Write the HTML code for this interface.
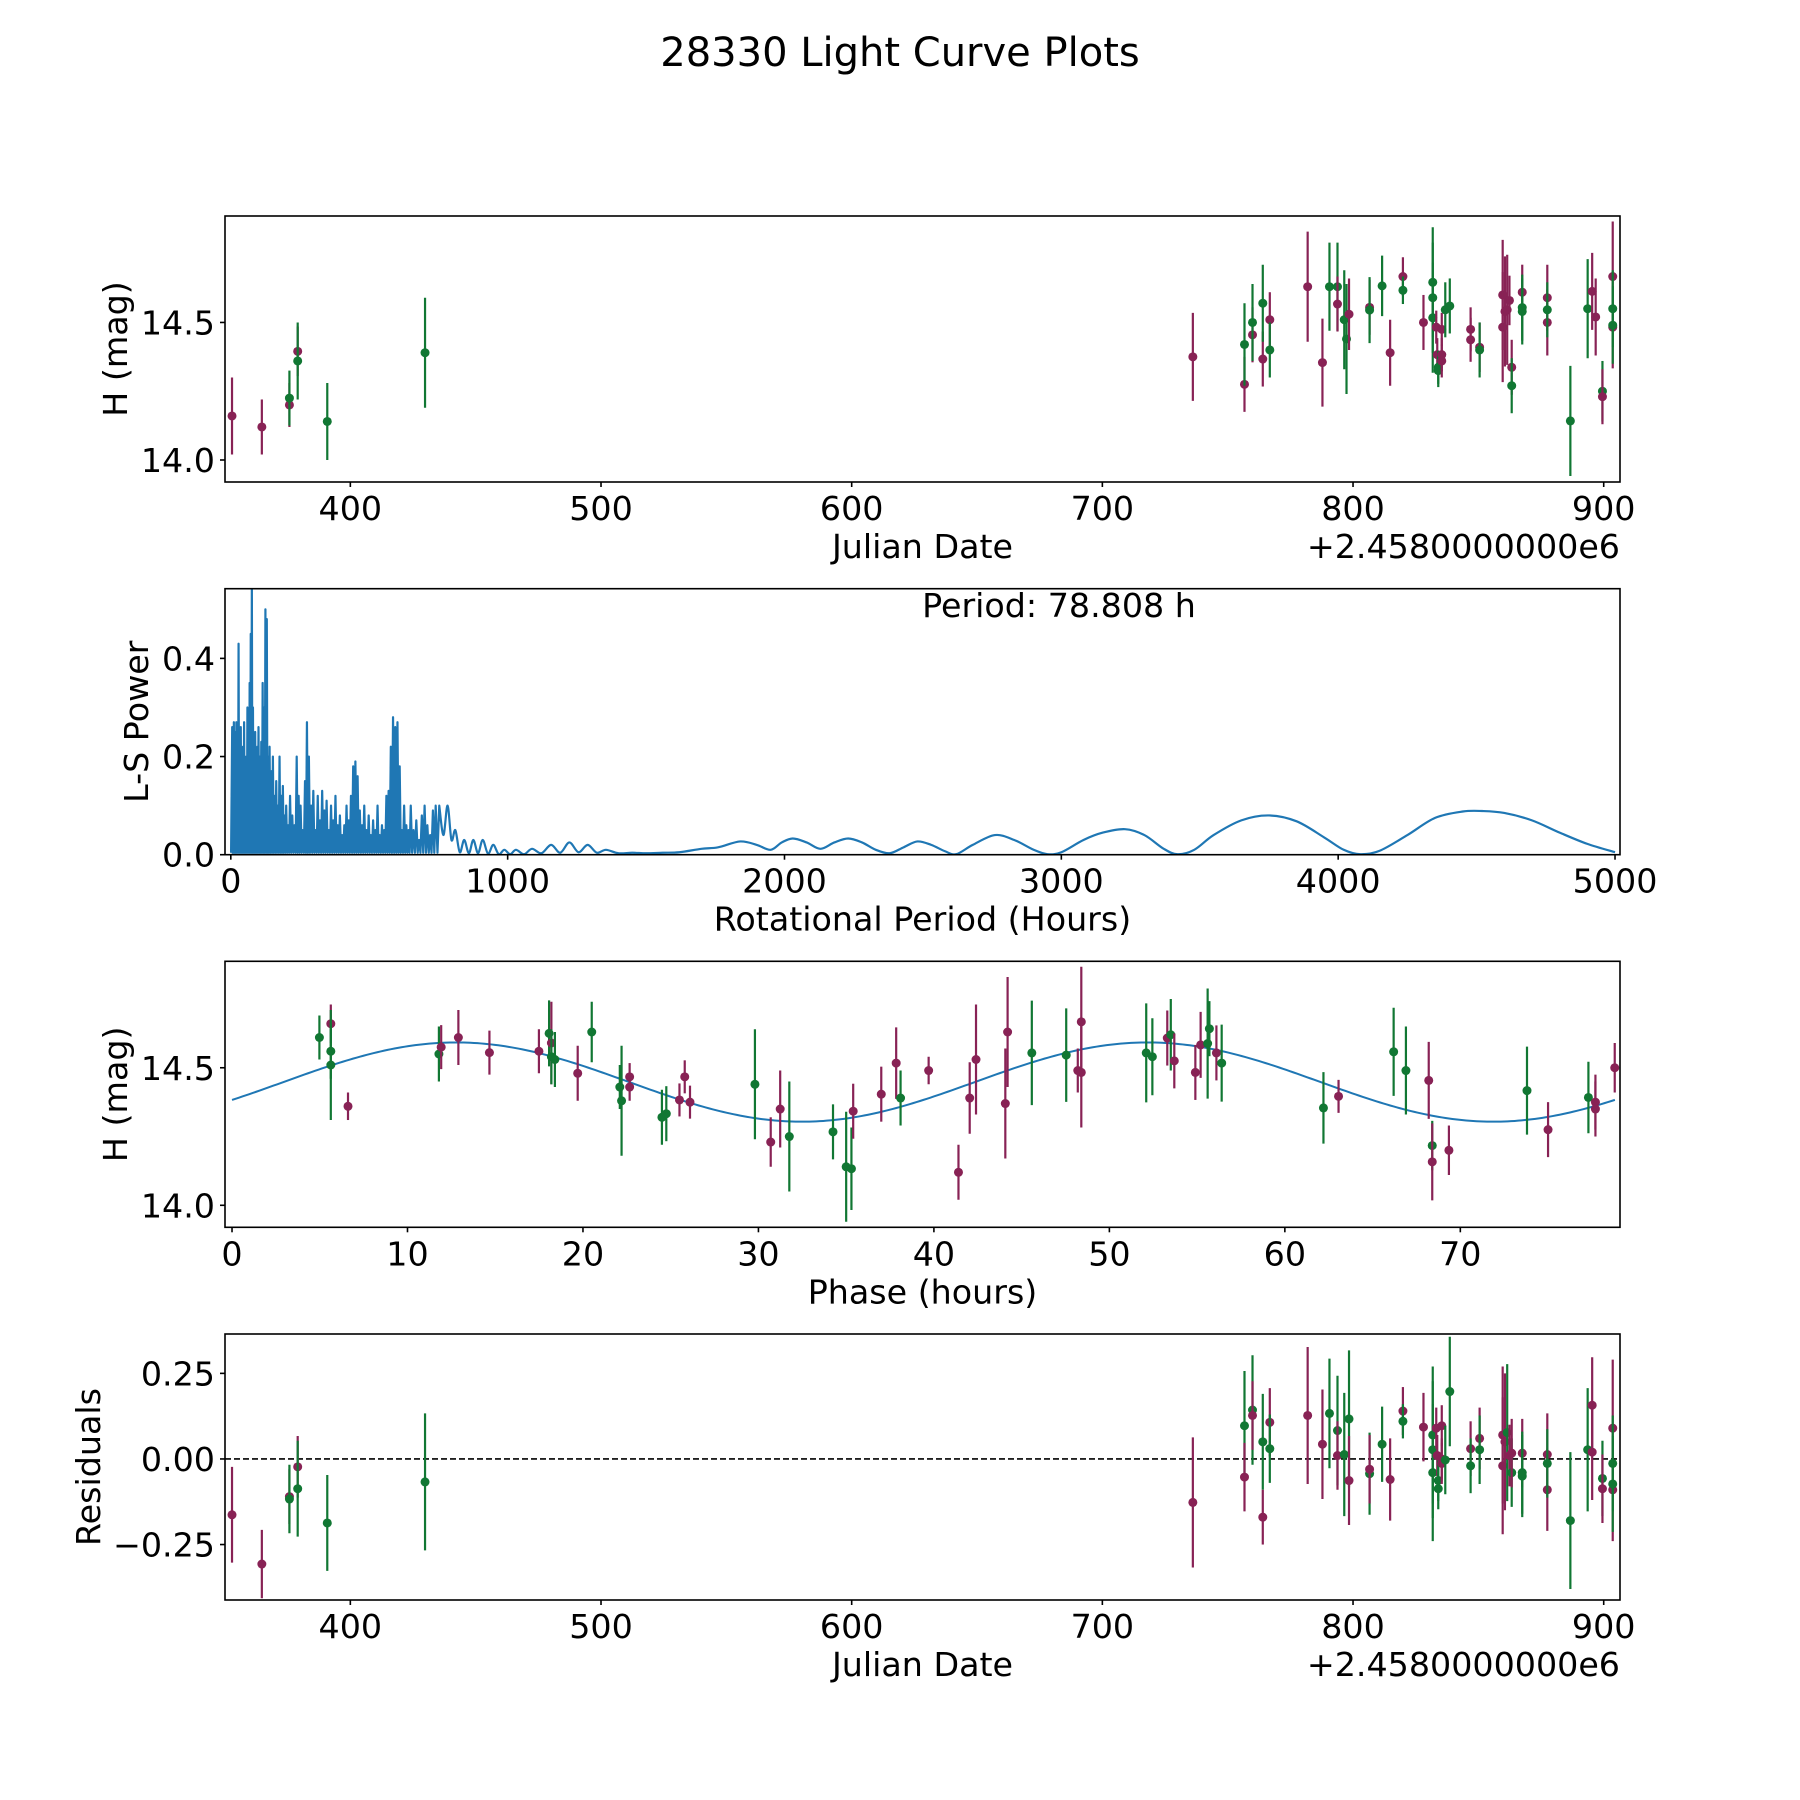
<!DOCTYPE html>
<html><head><meta charset="utf-8"><style>
html,body{margin:0;padding:0;background:#fff;}
svg{display:block;font-family:"DejaVu Sans","Liberation Sans",sans-serif;}
</style></head><body>
<svg id="fig" width="1800" height="1800" viewBox="0 0 1800 1800" xmlns="http://www.w3.org/2000/svg">
<rect width="1800" height="1800" fill="#fff"/>
<text x="900" y="66" text-anchor="middle" font-size="40">28330 Light Curve Plots</text>
</svg>
<script>
// ---------- Panel 1: raw light curve ----------
const jd1 = [352.8,364.7,375.7,375.7,379,379,390.8,429.8,736.1,756.7,756.7,759.9,759.9,764,764,766.8,766.8,781.9,787.8,790.6,793.8,793.8,796.5,797.4,798.4,806.6,806.6,811.6,814.8,819.9,819.9,828.1,831.8,831.8,831.8,833.2,833.6,834,834,835.4,835.4,835.4,836.8,838.6,846.9,846.9,850.5,850.5,859.7,859.7,860.6,861.5,862.4,863.3,863.3,867.5,867.5,867.5,877.5,877.5,877.5,886.7,893.6,895.4,896.8,899.5,899.5,903.6,903.6,903.6,903.6];
const mag1 = [14.16,14.12,14.20,14.225,14.395,14.36,14.14,14.39,14.375,14.275,14.42,14.455,14.5,14.367,14.57,14.51,14.4,14.63,14.354,14.63,14.63,14.567,14.51,14.44,14.53,14.555,14.545,14.633,14.39,14.667,14.617,14.5,14.646,14.59,14.517,14.483,14.383,14.337,14.325,14.475,14.383,14.36,14.546,14.56,14.475,14.437,14.41,14.4,14.6,14.483,14.54,14.546,14.58,14.337,14.27,14.61,14.554,14.54,14.59,14.5,14.546,14.142,14.55,14.613,14.52,14.25,14.23,14.667,14.483,14.55,14.49];
const err1 = [.14,.1,.08,.1,.09,.14,.14,.2,.16,.1,.15,.1,.14,.1,.14,.1,.1,.2,.16,.16,.16,.1,.18,.2,.13,.1,.12,.11,.12,.07,.05,.1,.2,.2,.2,.06,.06,.06,.06,.06,.06,.06,.1,.1,.08,.08,.09,.1,.2,.2,.2,.2,.09,.1,.1,.1,.12,.12,.12,.12,.1,.2,.18,.14,.14,.11,.1,.2,.15,.14,.14];
const band1 = ['m','m','m','g','m','g','g','g','m','m','g','m','g','m','g','m','g','m','m','g','g','m','g','g','m','m','g','g','m','m','g','m','g','g','g','m','m','g','g','m','m','m','g','g','m','m','m','g','m','m','m','m','m','m','g','m','g','g','m','m','g','g','g','m','m','g','m','m','m','g','g'];
const jdTicks = [400,500,600,700,800,900];
const magTicks = [14.0,14.5];
const magTickLabels = ['14.0','14.5'];

// ---------- Panel 2: periodogram ----------
const peakPeriods = [5,8,11,14,17,20,24,28,32,36,40,44,48,52,56,60,64,68,72,76,80,84,88,92,96,100,105,110,115,120,125,130,135,140,146,152,158,164,170,176,182,188,194,200,207,214,222,230,238,245,252,260,268,275,282,290,298,306,314,322,330,338,346,354,362,370,378,386,394,402,410,418,426,434,442,450,458,466,474,482,490,498,506,514,522,530,538,546,554,562,570,578,586,594,602,610,618,626,634,642,650,660,670,680,690,700,710,720,730,740];
const peakPower = [0.26,0.2,0.27,0.15,0.25,0.27,0.18,0.43,0.2,0.26,0.15,0.22,0.27,0.12,0.2,0.3,0.22,0.35,0.45,0.56,0.3,0.2,0.25,0.15,0.22,0.26,0.2,0.23,0.35,0.3,0.5,0.48,0.2,0.22,0.17,0.2,0.12,0.15,0.1,0.2,0.12,0.14,0.08,0.1,0.06,0.12,0.08,0.06,0.2,0.12,0.1,0.05,0.15,0.27,0.2,0.1,0.13,0.05,0.12,0.07,0.13,0.09,0.11,0.05,0.1,0.07,0.12,0.06,0.08,0.04,0.06,0.1,0.07,0.12,0.18,0.19,0.16,0.09,0.06,0.1,0.05,0.08,0.04,0.07,0.05,0.1,0.04,0.06,0.05,0.12,0.13,0.22,0.28,0.26,0.27,0.18,0.05,0.1,0.06,0.05,0.1,0.05,0.07,0.03,0.08,0.1,0.06,0.04,0.09,0.1];
const troughLevel = [0.004];
const longPeriods = [753,768,783,797,811,827,843,860,876,893, 910,929,948,968,988,1009,1030,1059,1088,1122, 1157,1190,1223,1256,1289,1322,1355,1400,1450,1500, 1560,1620,1700,1760,1840,1900,1950,1990,2030,2080, 2130,2180,2230,2280,2330,2380,2430,2480,2530,2580, 2620,2680,2760,2830,2900,2950,3000,3080,3150,3230, 3300,3370,3420,3480,3550,3650,3750,3850,3950,4020, 4080,4150,4250,4350,4450,4520,4600,4700,4800,4900,5000];
const longPower = [0.1,0.04,0.1,0.03,0.05,0.005,0.03,0.003,0.03,0.003, 0.03,0.002,0.02,0.001,0.01,0.001,0.01,0.001,0.012,0.003, 0.02,0.004,0.025,0.005,0.02,0.004,0.01,0.003,0.004,0.003, 0.004,0.005,0.012,0.015,0.027,0.02,0.01,0.025,0.033,0.025, 0.012,0.025,0.033,0.025,0.01,0.003,0.015,0.027,0.02,0.007, 0.001,0.02,0.04,0.03,0.01,0.001,0.005,0.03,0.045,0.052, 0.04,0.012,0.001,0.01,0.04,0.07,0.08,0.068,0.035,0.01, 0.001,0.008,0.04,0.075,0.088,0.089,0.085,0.07,0.045,0.022,0.005];
const periodTicks = [0,1000,2000,3000,4000,5000];
const powerTicks = [0.0,0.2,0.4];
const powerTickLabels = ['0.0','0.2','0.4'];
const bestPeriod = ['78.808'];

// ---------- Panel 3: phased light curve ----------
const phase3 = [4.98,5.63,5.63,5.63,6.61,11.79,11.92,12.9,14.67,17.49,18.07,18.2,18.2,18.4,19.7,20.5,22.1,22.2,22.66,22.66,24.5,24.75,25.5,25.8,26.1,29.8,30.7,31.24,31.76,34.25,35.0,35.3,35.4,37.0,37.85,38.1,39.7,41.4,42.04,42.4,44.07,44.2,45.58,47.54,48.2,48.4,48.4,52.1,52.45,53.3,53.5,53.7,54.9,55.2,55.6,55.7,56.1,56.4,62.2,63.06,66.2,66.9,68.2,68.4,68.4,69.35,73.8,75.0,77.3,77.7,77.7,78.8];
const mag3 = [14.61,14.66,14.56,14.51,14.36,14.55,14.575,14.61,14.555,14.56,14.625,14.59,14.54,14.53,14.48,14.63,14.43,14.38,14.467,14.43,14.32,14.333,14.383,14.467,14.375,14.44,14.23,14.35,14.25,14.267,14.14,14.133,14.342,14.404,14.517,14.39,14.49,14.12,14.39,14.53,14.37,14.63,14.554,14.546,14.49,14.667,14.483,14.554,14.54,14.608,14.62,14.525,14.483,14.583,14.588,14.642,14.554,14.517,14.354,14.396,14.558,14.49,14.454,14.217,14.158,14.2,14.417,14.275,14.392,14.375,14.35,14.5];
const err3 = [.08,.07,.1,.2,.05,.1,.08,.1,.08,.08,.12,.15,.1,.1,.1,.11,.08,.2,.05,.05,.1,.1,.06,.06,.06,.2,.09,.14,.2,.1,.2,.15,.1,.1,.13,.1,.05,.1,.13,.2,.2,.2,.19,.17,.08,.2,.2,.18,.14,.1,.13,.1,.1,.12,.2,.1,.1,.14,.13,.06,.16,.16,.14,.09,.14,.09,.16,.1,.13,.1,.1,.09];
const band3 = ['g','m','g','g','m','g','m','m','m','m','g','m','g','g','m','g','g','g','m','m','g','g','m','m','m','g','m','m','g','g','g','g','m','m','m','g','m','m','m','m','m','m','g','g','m','m','m','g','g','m','g','m','m','m','g','g','m','g','g','m','g','g','m','g','m','m','g','m','g','m','m','m'];
const fitParams = [14.448, 0.144, 78.808, -0.467]; // mean, amplitude, period, phase offset
const phaseTicks = [0,10,20,30,40,50,60,70];

// ---------- Panel 4: residuals ----------
const jd4 = [352.8,364.7,375.7,375.7,379,379,390.8,429.8,736.1,756.7,756.7,759.9,759.9,764,764,766.8,766.8,781.9,787.8,790.6,793.8,793.8,796.5,798.4,798.4,806.6,806.6,811.6,814.8,819.9,819.9,828.1,831.8,831.8,831.8,833.2,833.6,834,834,835.4,835.4,835.4,836.8,838.6,846.9,846.9,850.5,850.5,859.7,859.7,860.6,861.5,862.4,863.3,863.3,867.5,867.5,867.5,877.5,877.5,877.5,886.7,893.6,895.4,895.4,899.5,899.5,903.6,903.6,903.6,903.6];
const res4 = [-.163,-.307,-.11,-.117,-.023,-.087,-.187,-.067,-.127,.097,-.053,.143,.127,.05,-.17,.107,.03,.127,.043,.133,.083,.01,.013,.117,-.063,-.043,-.03,.043,-.06,.14,.11,.093,.07,.027,-.04,.09,.01,-.087,-.063,.097,0,-.013,-.003,.197,.03,-.02,.06,.027,.07,-.02,.05,.077,.01,-.04,.017,.017,-.05,-.04,-.09,.013,-.013,-.18,.027,.157,.02,-.057,-.087,.09,-.09,-.013,-.073];
const err4 = [.14,.1,.08,.1,.09,.14,.14,.2,.19,.16,.1,.16,.1,.14,.08,.1,.1,.2,.16,.16,.16,.1,.18,.2,.13,.12,.1,.11,.12,.07,.05,.1,.2,.2,.2,.06,.06,.06,.06,.06,.06,.06,.1,.16,.08,.08,.09,.1,.2,.2,.2,.2,.09,.1,.1,.1,.12,.12,.12,.12,.1,.2,.18,.14,.14,.11,.1,.2,.15,.14,.14];
const band4 = ['m','m','m','g','m','g','g','g','m','g','m','g','m','g','m','m','g','m','m','g','g','m','g','g','m','g','m','g','m','m','g','m','g','g','g','m','m','g','g','m','m','m','g','g','m','g','m','g','m','m','m','g','m','g','m','m','g','g','m','m','g','g','g','m','m','g','m','m','m','g','g'];
const resTicks = [-0.25,0.0,0.25];
const resTickLabels = ['\u22120.25','0.00','0.25'];

const NS = 'http://www.w3.org/2000/svg';
const svg = document.getElementById('fig');
const COL = {m:'#882255', g:'#117733'};
const L = 225, R = 1620, H = 266;
const FS = 33.3;
const tops = [216, 588.7, 961.3, 1334];

function mk(tag, attrs, parent) {
  const e = document.createElementNS(NS, tag);
  for (const k in attrs) e.setAttribute(k, attrs[k]);
  (parent || svg).appendChild(e);
  return e;
}
function makeAxes(i, xmin, xmax, ymin, ymax) {
  const top = tops[i], bot = top + H;
  const sx = v => L + (v - xmin) / (xmax - xmin) * (R - L);
  const sy = v => bot - (v - ymin) / (ymax - ymin) * H;
  const g = mk('g', {});
  
  
  const cp = mk('clipPath', {id: 'clip' + i}, g);
  mk('rect', {x: L, y: top, width: R - L, height: H}, cp);
  const plot = mk('g', {'clip-path': 'url(#clip' + i + ')'}, g);
  
  
  return {top, bot, sx, sy, g, plot};
}
function frame(ax) {
  const r = mk('rect', {x: L, y: ax.top, width: R - L, height: H, fill: 'none', stroke: '#000', 'stroke-width': 1.6}, ax.g);
  
  
}
function xTicks(ax, vals, labels, name) {
  vals.forEach((v, k) => {
    const x = ax.sx(v);
    mk('line', {x1: x, x2: x, y1: ax.bot, y2: ax.bot + 5, stroke: '#000', 'stroke-width': 1.6}, ax.g);
    const t = mk('text', {x: x, y: ax.bot + 38, 'text-anchor': 'middle', 'font-size': FS}, ax.g);
    t.textContent = labels ? labels[k] : String(v);
    
    
  });
}
function yTicks(ax, vals, labels, name) {
  vals.forEach((v, k) => {
    const y = ax.sy(v);
    mk('line', {x1: L - 5, x2: L, y1: y, y2: y, stroke: '#000', 'stroke-width': 1.6}, ax.g);
    const t = mk('text', {x: L - 10, y: y + 12, 'text-anchor': 'end', 'font-size': FS}, ax.g);
    t.textContent = labels[k];
    
    
  });
}
function xLabel(ax, txt, name) {
  const t = mk('text', {x: (L + R) / 2, y: ax.bot + 76, 'text-anchor': 'middle', 'font-size': FS}, ax.g);
  t.textContent = txt;
  
  
}
function yLabel(ax, txt, x, name) {
  const cy = ax.top + H / 2;
  const t = mk('text', {x: x, y: cy, 'text-anchor': 'middle', 'font-size': FS, transform: 'rotate(-90 ' + x + ' ' + cy + ')'}, ax.g);
  t.textContent = txt;
  
  
}
function offsetText(ax) {
  const t = mk('text', {x: R, y: ax.bot + 76, 'text-anchor': 'end', 'font-size': FS}, ax.g);
  t.textContent = '+2.4580000000e6';
  
  
}
function errPoints(ax, xs, ys, es, bands) {
  const n = Math.min(xs.length, ys.length);
  for (let k = 0; k < n; k++) {
    const c = COL[bands[k] || 'm'];
    const x = ax.sx(xs[k]), e = es[k] || 0.1;
    const ln = mk('line', {x1: x, x2: x, y1: ax.sy(ys[k] - e), y2: ax.sy(ys[k] + e), stroke: c, 'stroke-width': 2.2}, ax.plot);
    
    
    const p = mk('circle', {cx: x, cy: ax.sy(ys[k]), r: 4.5, fill: c}, ax.plot);
    
    
  }
}

// Panel 1
const a1 = makeAxes(0, 350, 906.5, 13.92, 14.887);
errPoints(a1, jd1, mag1, err1, band1);
frame(a1);
xTicks(a1, jdTicks, null, 'julian-date');
yTicks(a1, magTicks, magTickLabels, 'magnitude');
xLabel(a1, 'Julian Date', 'x-axis-title-julian-date');
offsetText(a1);
yLabel(a1, 'H (mag)', 127, 'y-axis-title-magnitude');

// Panel 2
const a2 = makeAxes(1, -21, 5018, 0, 0.542);
{
  // dense short-period part: peaks joined through low troughs
  let d = 'M' + a2.sx(1).toFixed(2) + ',' + a2.sy(troughLevel[0]).toFixed(2);
  const n = Math.min(peakPeriods.length, peakPower.length);
  for (let k = 0; k < n; k++) {
    d += 'L' + a2.sx(peakPeriods[k]).toFixed(2) + ',' + a2.sy(peakPower[k]).toFixed(2);
    const nxt = k + 1 < n ? peakPeriods[k + 1] : longPeriods[0];
    d += 'L' + a2.sx((peakPeriods[k] + nxt) / 2).toFixed(2) + ',' + a2.sy(troughLevel[0]).toFixed(2);
  }
  // long-period part: smooth curve through samples
  const m = Math.min(longPeriods.length, longPower.length);
  const P = [];
  for (let k = 0; k < m; k++) P.push([a2.sx(longPeriods[k]), a2.sy(longPower[k])]);
  d += 'L' + P[0][0].toFixed(2) + ',' + P[0][1].toFixed(2);
  for (let k = 0; k < m - 1; k++) {
    const p0 = P[Math.max(0, k - 1)], p1 = P[k], p2 = P[k + 1], p3 = P[Math.min(m - 1, k + 2)];
    const c1 = [p1[0] + (p2[0] - p0[0]) / 6, p1[1] + (p2[1] - p0[1]) / 6];
    const c2 = [p2[0] - (p3[0] - p1[0]) / 6, p2[1] - (p3[1] - p1[1]) / 6];
    d += 'C' + c1[0].toFixed(2) + ',' + c1[1].toFixed(2) + ' ' + c2[0].toFixed(2) + ',' + c2[1].toFixed(2) + ' ' + p2[0].toFixed(2) + ',' + p2[1].toFixed(2);
  }
  const p = mk('path', {d: d, fill: 'none', stroke: '#1f77b4', 'stroke-width': 2.2, 'stroke-linejoin': 'round'}, a2.plot);
  
  
}
frame(a2);
xTicks(a2, periodTicks, null, 'period');
yTicks(a2, powerTicks, powerTickLabels, 'power');
xLabel(a2, 'Rotational Period (Hours)', 'x-axis-title-period');
yLabel(a2, 'L-S Power', 148, 'y-axis-title-power');
{
  const t = mk('text', {x: 1059, y: 617, 'text-anchor': 'middle', 'font-size': FS}, a2.g);
  t.textContent = 'Period: ' + bestPeriod[0] + ' h';
  
  
}

// Panel 3
const a3 = makeAxes(2, -0.4, 79.1, 13.92, 14.887);
{
  let d = '';
  const [mu, amp, P, ph] = fitParams;
  for (let k = 0; k <= 400; k++) {
    const t = P * k / 400;
    const v = mu + amp * Math.sin(4 * Math.PI * t / P + ph);
    d += (k ? 'L' : 'M') + a3.sx(t).toFixed(2) + ',' + a3.sy(v).toFixed(2);
  }
  const p = mk('path', {d: d, fill: 'none', stroke: '#1f77b4', 'stroke-width': 2}, a3.plot);
  
  
}
errPoints(a3, phase3, mag3, err3, band3);
frame(a3);
xTicks(a3, phaseTicks, null, 'phase');
yTicks(a3, magTicks, magTickLabels, 'phase-magnitude');
xLabel(a3, 'Phase (hours)', 'x-axis-title-phase');
yLabel(a3, 'H (mag)', 127, 'y-axis-title-phase-magnitude');

// Panel 4
const a4 = makeAxes(3, 350, 906.5, -0.412, 0.365);
{
  const z = mk('line', {x1: L, x2: R, y1: a4.sy(0), y2: a4.sy(0), stroke: '#000', 'stroke-width': 1.6, 'stroke-dasharray': '6,3'}, a4.plot);
  
  
}
errPoints(a4, jd4, res4, err4, band4);
frame(a4);
xTicks(a4, jdTicks, null, 'residual-julian-date');
yTicks(a4, resTicks, resTickLabels, 'residual');
xLabel(a4, 'Julian Date', 'x-axis-title-residual-julian-date');
offsetText(a4);
yLabel(a4, 'Residuals', 100, 'y-axis-title-residuals');
</script>
</body></html>
